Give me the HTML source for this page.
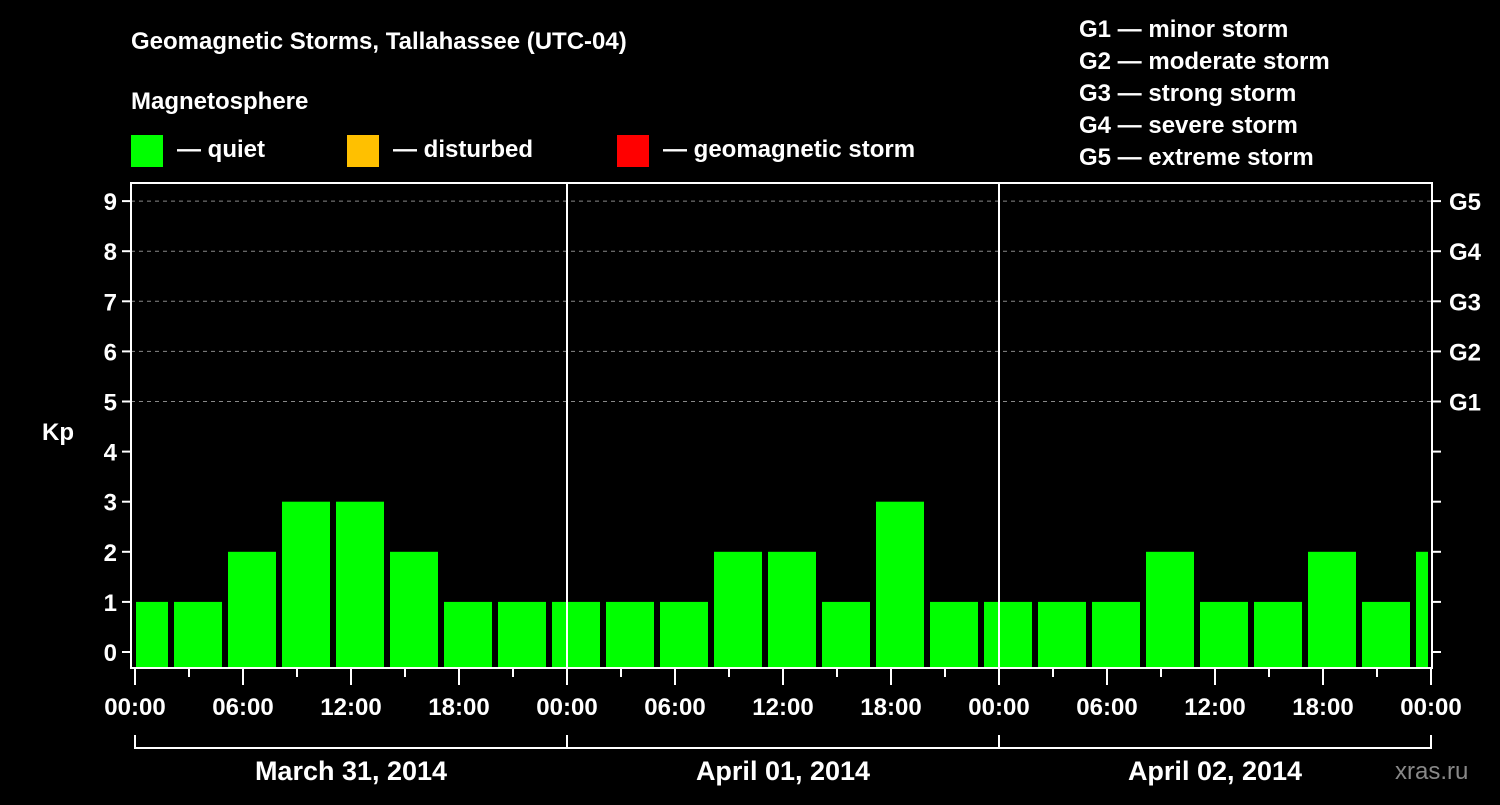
<!DOCTYPE html>
<html><head><meta charset="utf-8"><style>
html,body{margin:0;padding:0;background:#000;}
svg text{font-family:"Liberation Sans",sans-serif;font-weight:bold;fill:#fff;}
</style></head><body>
<svg id="chart" width="1500" height="800" xmlns="http://www.w3.org/2000/svg">
<rect width="1500" height="800" fill="#000"/>
<text x="131" y="49" font-size="24">Geomagnetic Storms, Tallahassee (UTC-04)</text>
<text x="131" y="109" font-size="24">Magnetosphere</text>
<g><rect x="131" y="135" width="32" height="32" fill="#00ff00"/><text x="177" y="157" font-size="24">— quiet</text></g>
<g><rect x="347" y="135" width="32" height="32" fill="#ffc000"/><text x="393" y="157" font-size="24">— disturbed</text></g>
<g><rect x="617" y="135" width="32" height="32" fill="#ff0000"/><text x="663" y="157" font-size="24">— geomagnetic storm</text></g>
<g font-size="24">
<text x="1079" y="37">G1 — minor storm</text>
<text x="1079" y="69">G2 — moderate storm</text>
<text x="1079" y="101">G3 — strong storm</text>
<text x="1079" y="133">G4 — severe storm</text>
<text x="1079" y="165">G5 — extreme storm</text>
</g>
<text x="42" y="440" font-size="24">Kp</text>
<text x="1395" y="779" font-size="24" style="fill:#888;font-weight:normal">xras.ru</text>
<g id="grid"></g><g id="bars"></g><g id="axes"></g>
</svg>
<script>
const kpValues=[1,1,2,3,3,2,1,1,1,1,1,2,2,1,3,1,1,1,1,2,1,1,2,1,2];
const yTicks=[0,1,2,3,4,5,6,7,8,9];
const gLabels=["G1","G2","G3","G4","G5"];
const hourLabels=["00:00","06:00","12:00","18:00","00:00","06:00","12:00","18:00","00:00","06:00","12:00","18:00","00:00"];
const dayLabels=["March 31, 2014","April 01, 2014","April 02, 2014"];
const NS="http://www.w3.org/2000/svg";
const L=131,R=1432,T=183,B=668,X0=135,PXH=18;
const y=v=>652-v*50.1;
const x=h=>X0+h*PXH;
function mk(tag,attrs,parent,text){const e=document.createElementNS(NS,tag);for(const k in attrs)e.setAttribute(k,attrs[k]);if(text!==undefined)e.textContent=text;document.getElementById(parent).appendChild(e);return e;}
yTicks.forEach(v=>{
 if(v>=5){const g=mk('line',{x1:L,x2:R,y1:y(v),y2:y(v),stroke:'#888','stroke-dasharray':'4,4','stroke-width':1},'grid');
 
 }
 const t=mk('line',{x1:L-9,x2:L,y1:y(v),y2:y(v),stroke:'#fff','stroke-width':2},'axes');
 
 
 const rt=mk('line',{x1:R,x2:R+9,y1:y(v),y2:y(v),stroke:'#fff','stroke-width':2},'axes');
 
 
 const lb=mk('text',{x:L-14,y:y(v)+9,'font-size':24,'text-anchor':'end'},'axes',String(v));
 
 
});
gLabels.forEach((g,i)=>{
 const t=mk('text',{x:1449,y:y(5+i)+9,'font-size':24},'axes',g);
 
 
});
kpValues.forEach((v,k)=>{
 let x1=x(3*k)-15,x2=x1+48;
 x1=Math.max(x1,L+5);x2=Math.min(x2,R-4);
 if(x2<=x1)return;
 const c=v>=5?'#ff0000':(v>=4?'#ffc000':'#00ff00');
 const r=mk('rect',{x:x1,y:y(v),width:x2-x1,height:B-y(v),fill:c},'bars');
 
 
});
const f=mk('rect',{x:L,y:T,width:R-L,height:B-T,fill:'none',stroke:'#fff','stroke-width':2},'axes');


[1,2].forEach(d=>{const s=mk('line',{x1:x(24*d),x2:x(24*d),y1:T,y2:B,stroke:'#fff','stroke-width':2},'axes');
 
 });
for(let h=0;h<=72;h+=3){
 const major=h%6===0;
 const t=mk('line',{x1:x(h),x2:x(h),y1:B,y2:B+(major?17:9),stroke:'#fff','stroke-width':2},'axes');
 
 
}
hourLabels.forEach((s,i)=>{
 const t=mk('text',{x:x(i*6),y:715,'font-size':24,'text-anchor':'middle'},'axes',s);
 
 
});
const br=mk('path',{d:`M${x(0)},735V748H${x(72)}V735M${x(24)},735V748M${x(48)},735V748`,stroke:'#fff','stroke-width':2,fill:'none'},'axes');


dayLabels.forEach((s,i)=>{
 const t=mk('text',{x:x(24*i+12),y:780,'font-size':27,'text-anchor':'middle'},'axes',s);
 
 
});
</script>
</body></html>
